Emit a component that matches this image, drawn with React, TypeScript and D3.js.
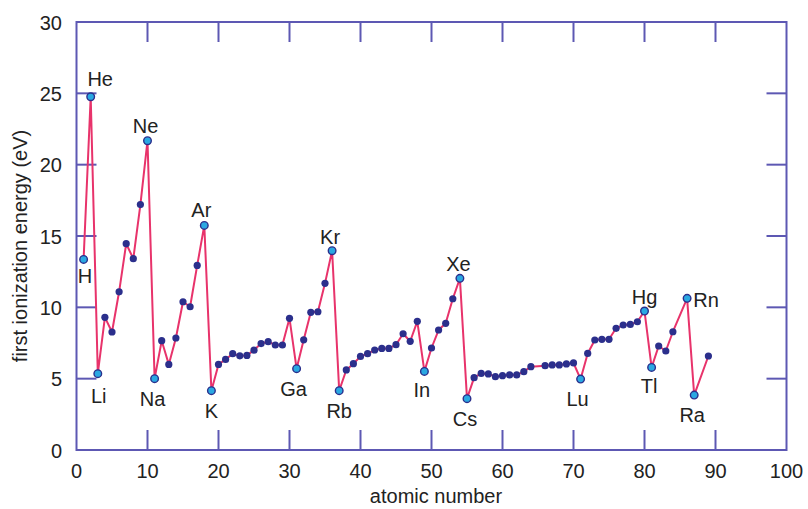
import React from "react";
import * as d3 from "d3";

// atomic numbers plotted (65 and 85, 88 absent in the reference)
const atomicNumbers = [
  1, 2, 3, 4, 5, 6, 7, 8, 9, 10,
  11, 12, 13, 14, 15, 16, 17, 18, 19, 20,
  21, 22, 23, 24, 25, 26, 27, 28, 29, 30,
  31, 32, 33, 34, 35, 36, 37, 38, 39, 40,
  41, 42, 43, 44, 45, 46, 47, 48, 49, 50,
  51, 52, 53, 54, 55, 56, 57, 58, 59, 60,
  61, 62, 63, 64, 66, 67, 68, 69, 70,
  71, 72, 73, 74, 75, 76, 77, 78, 79, 80,
  81, 82, 83, 84, 86, 87, 89,
];

const energies = [
  13.36, 24.76, 5.35, 9.3, 8.27, 11.09, 14.46, 13.41, 17.2, 21.68,
  5.0, 7.66, 6.0, 7.85, 10.39, 10.04, 12.94, 15.74, 4.16, 6.0,
  6.35, 6.75, 6.6, 6.63, 7.0, 7.46, 7.59, 7.36, 7.36, 9.23,
  5.7, 7.72, 9.65, 9.69, 11.68, 13.97, 4.16, 5.61, 6.05, 6.56,
  6.75, 7.01, 7.12, 7.12, 7.38, 8.15, 7.62, 9.02, 5.51, 7.15,
  8.41, 8.88, 10.6, 12.03, 3.6, 5.07, 5.37, 5.33, 5.14, 5.21,
  5.26, 5.26, 5.49, 5.84, 5.91, 5.96, 5.96, 6.03, 6.1,
  4.97, 6.77, 7.71, 7.76, 7.76, 8.53, 8.76, 8.8, 8.99, 9.74,
  5.79, 7.29, 6.94, 8.29, 10.63, 3.85, 6.59,
];

const labelSymbols = ["H", "He", "Li", "Ne", "Na", "Ar", "K", "Ga", "Kr", "Rb", "In", "Xe", "Cs", "Lu", "Hg", "Tl", "Rn", "Ra"];
const labelZ = [1, 2, 3, 10, 11, 18, 19, 31, 36, 37, 49, 54, 55, 71, 80, 81, 86, 87];

const xTicks = [0, 10, 20, 30, 40, 50, 60, 70, 80, 90, 100];
const yTicks = [0, 5, 10, 15, 20, 25, 30];

const xTitle = "atomic number";
const yTitle = "first ionization energy (eV)";

// label placement offsets (layout only), keyed by symbol
const labelOffsets: Record<string, [number, number]> = {
  H: [1.5, 16], He: [9.5, -18], Li: [1, 22], Ne: [-2, -15], Na: [-2, 20.5],
  Ar: [-3, -16], K: [0, 20], Ga: [-3, 20], Kr: [-2, -14], Rb: [0, 20],
  In: [-2.5, 18], Xe: [-1.5, -15], Cs: [-2, 20], Lu: [-3, 20],
  Hg: [0, -14.5], Tl: [-2.5, 18.5], Rn: [19, 1.5], Ra: [-2, 20],
};

const W = 808;
const H = 509;
const left = 76.5;
const right = 786.5;
const top = 22;
const bottom = 450;

const FRAME = "#5d58b3";
const LINE = "#e8336b";
const DOT = "#2b2f8c";
const HL = "#2aa8e2";
const FONT = "'Liberation Sans', Arial, Helvetica, sans-serif";

export default function App() {
  const x = d3.scaleLinear().domain([0, 100]).range([left, right]);
  const y = d3.scaleLinear().domain([0, 30]).range([bottom, top]);
  const pts = atomicNumbers.map((z, i) => ({ z, e: energies[i] }));
  const line = d3
    .line<{ z: number; e: number }>()
    .x((d) => x(d.z))
    .y((d) => y(d.e));
  const labeled = new Set(labelZ);
  const tickLen = 20;

  return (
    <svg
      width={W}
      height={H}
      style={{ position: "absolute", left: 0, top: 0, background: "#fff" }}
      fontFamily={FONT}
    >
      <rect x={0} y={0} width={W} height={H} fill="#fff" />
      {/* frame */}
      <rect x={left} y={top} width={right - left} height={bottom - top} fill="none" stroke={FRAME} strokeWidth={2} />
      {/* x ticks */}
      {xTicks.filter((t) => t > 0 && t < 100).map((t) => (
        <g key={"xt" + t}>
          <line x1={x(t)} x2={x(t)} y1={bottom} y2={bottom - tickLen} stroke={FRAME} strokeWidth={2} />
          <line x1={x(t)} x2={x(t)} y1={top} y2={top + tickLen} stroke={FRAME} strokeWidth={2} />
        </g>
      ))}
      {xTicks.map((t) => (
        <text key={"xl" + t} x={x(t)} y={478} textAnchor="middle" fontSize={20} fill="#222">
          {t}
        </text>
      ))}
      {/* y ticks */}
      {yTicks.filter((t) => t > 0 && t < 30).map((t) => (
        <g key={"yt" + t}>
          <line x1={left} x2={left + tickLen} y1={y(t)} y2={y(t)} stroke={FRAME} strokeWidth={2} />
          <line x1={right} x2={right - tickLen} y1={y(t)} y2={y(t)} stroke={FRAME} strokeWidth={2} />
        </g>
      ))}
      {yTicks.map((t) => (
        <text key={"yl" + t} x={62} y={y(t) + 7.5} textAnchor="end" fontSize={20} fill="#222">
          {t}
        </text>
      ))}
      {/* axis titles */}
      <text x={436} y={503} textAnchor="middle" fontSize={20} fill="#222">
        {xTitle}
      </text>
      <text
        transform={`translate(27,${246}) rotate(-90)`}
        textAnchor="middle"
        fontSize={20}
        fill="#222"
      >
        {yTitle}
      </text>
      {/* series */}
      <path d={line(pts) || ""} fill="none" stroke={LINE} strokeWidth={2} strokeLinejoin="round" />
      {pts.filter((p) => !labeled.has(p.z)).map((p) => (
        <circle key={"d" + p.z} cx={x(p.z)} cy={y(p.e)} r={3.6} fill={DOT} />
      ))}
      {pts.filter((p) => labeled.has(p.z)).map((p) => (
        <circle key={"h" + p.z} cx={x(p.z)} cy={y(p.e)} r={3.8} fill={HL} stroke={DOT} strokeWidth={1.4} />
      ))}
      {labelSymbols.map((s, i) => {
        const z = labelZ[i];
        const p = pts.find((q) => q.z === z)!;
        const [dx, dy] = labelOffsets[s];
        return (
          <text key={"lab" + s} x={x(p.z) + dx} y={y(p.e) + dy + 7.2} textAnchor="middle" fontSize={20} fill="#222">
            {s}
          </text>
        );
      })}
    </svg>
  );
}
